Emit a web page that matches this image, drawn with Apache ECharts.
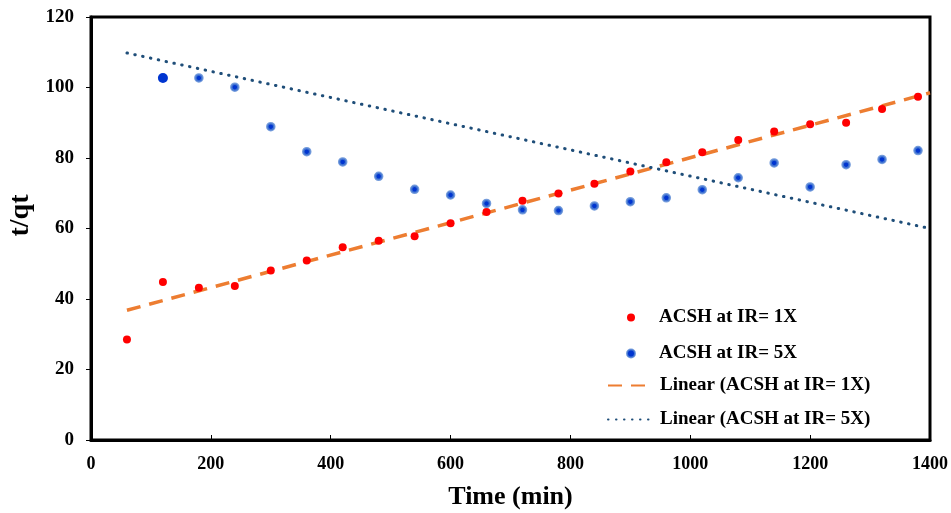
<!DOCTYPE html>
<html>
<head>
<meta charset="utf-8">
<script src="https://cdn.jsdelivr.net/npm/echarts@6/dist/echarts.min.js"></script>
<style>html,body{margin:0;padding:0;background:#fff}#c{width:951px;height:513px}</style>
</head>
<body>
<div id="c"></div>
<script>
// Data
const timeRed = [60,120,180,240,300,360,420,480,540,600,660,720,780,840,900,960,1020,1080,1140,1200,1260,1320,1380];
const valRed  = [28.5,44.8,43.2,43.7,48.1,50.9,54.7,56.5,57.8,61.5,64.7,67.9,69.9,72.7,76.2,78.8,81.6,85.1,87.5,89.6,90.0,93.9,97.4];
const timeBlue = [120,180,240,300,360,420,480,540,600,660,720,780,840,900,960,1020,1080,1140,1200,1260,1320,1380];
const valBlue  = [102.7,102.7,100.1,88.9,81.8,78.9,74.8,71.1,69.5,67.1,65.3,65.1,66.4,67.6,68.7,71.0,74.4,78.6,71.8,78.1,79.6,82.1];
const trendX = [60,1400];
const trendRed = [36.8,98.5];
const trendBlue = [109.8,60.0];
const xTicks = [0,200,400,600,800,1000,1200,1400];
const yTicks = [0,20,40,60,80,100,120];
const names = ['ACSH at IR= 1X','ACSH at IR= 5X','Linear (ACSH at IR= 1X)','Linear (ACSH at IR= 5X)'];

const FONT = '"Liberation Serif", "Times New Roman", serif';
const pair = (xs, ys) => xs.map((x,i)=>[x, ys[i]]);
const blueData = pair(timeBlue, valBlue).map((p,i)=> i===0 ? {value:p, symbolSize:10, itemStyle:{color:'#0035d0', borderWidth:0}} : p);

const chart = echarts.init(document.getElementById('c'), null, {renderer:'canvas'});
chart.setOption({
  animation:false,
  backgroundColor:'#fff',
  grid:{left:91, right:21, top:17, bottom:73, outerBoundsMode:'none', containLabel:false, show:true, borderColor:'#000', borderWidth:3, backgroundColor:'transparent'},
  xAxis:{
    type:'value', min:xTicks[0], max:xTicks[xTicks.length-1], interval:200,
    name:'Time (min)', nameLocation:'middle', nameGap:44,
    nameTextStyle:{fontFamily:FONT, fontWeight:'bold', fontSize:26, color:'#000'},
    axisLine:{show:true, lineStyle:{color:'#000', width:3}},
    axisTick:{show:true, inside:true, length:5, lineStyle:{color:'#000', width:1}},
    axisLabel:{fontFamily:FONT, fontWeight:'bold', fontSize:18, color:'#000', margin:15, formatter:v=>String(v)},
    splitLine:{show:false}
  },
  yAxis:{
    type:'value', min:yTicks[0], max:yTicks[yTicks.length-1], interval:20,
    name:'t/qt', nameLocation:'middle', nameGap:54,
    nameTextStyle:{fontFamily:FONT, fontWeight:'bold', fontSize:28, color:'#000', padding:[0,0,0,26]},
    axisLine:{show:true, lineStyle:{color:'#000', width:3}},
    axisTick:{show:true, inside:false, length:5, lineStyle:{color:'#000', width:1}},
    axisLabel:{fontFamily:FONT, fontWeight:'bold', fontSize:19, color:'#000', margin:17, formatter:v=>String(v)},
    splitLine:{show:false}
  },
  legend:[
    {
      orient:'vertical', left:621, top:303, itemWidth:8, itemHeight:8, itemGap:17,
      data:[{name:names[0], icon:'circle'},{name:names[1], icon:'circle'}],
      textStyle:{fontFamily:FONT, fontWeight:'bold', fontSize:19, color:'#000', padding:[0,0,0,19]}
    },
    {
      orient:'vertical', left:602, top:371, itemWidth:45, itemHeight:10, itemGap:15,
      data:[names[2], names[3]],
      itemStyle:{opacity:0},
      textStyle:{fontFamily:FONT, fontWeight:'bold', fontSize:19, color:'#000', padding:[0,0,0,2]}
    }
  ],
  series:[
    {name:names[2], type:'line', data:pair(trendX, trendRed), showSymbol:false, symbol:'none', z:3,
     lineStyle:{color:'#ED7D31', width:3.5, type:[14,9]}, itemStyle:{color:'#ED7D31'}},
    {name:names[3], type:'line', data:pair(trendX, trendBlue), showSymbol:false, symbol:'none', z:3,
     lineStyle:{color:'#1F4E79', width:3, type:[0.5,7.5], cap:'round'}, itemStyle:{color:'#1F4E79'}},
    {name:names[0], type:'scatter', data:pair(timeRed, valRed), symbol:'circle', symbolSize:8, z:4,
     itemStyle:{color:'#FF0000', opacity:1}},
    {name:names[1], type:'scatter', data:blueData, symbol:'circle', symbolSize:7, z:4,
     itemStyle:{color:'#0035d0', borderColor:'rgba(80,130,210,0.8)', borderWidth:2.5, opacity:1}}
  ]
});
</script>
</body>
</html>
